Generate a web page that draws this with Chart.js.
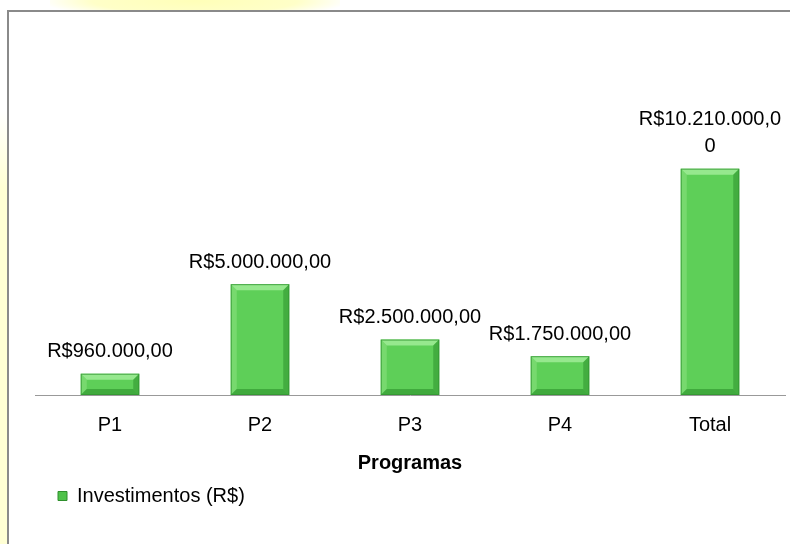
<!DOCTYPE html>
<html lang="pt-BR">
<head>
  <meta charset="UTF-8" />
  <title>Investimentos por programa</title>
  <script src="https://cdn.jsdelivr.net/npm/chart.js"></script>
  <style>
    html, body { margin: 0; padding: 0; background: #fff; }
    #page { position: relative; width: 790px; height: 544px; overflow: hidden; background: #fff; }
    #glowTop { position: absolute; left: 50px; top: -16px; width: 290px; height: 34px;
      background: radial-gradient(ellipse at center, #ffffb8 0%, #ffffc8 50%, rgba(255,255,255,0) 75%); }
    #stripLeft { position: absolute; left: 0; top: 110px; width: 7px; height: 434px;
      background: linear-gradient(#ffffff 0%, #ffffd4 18%, #ffffd4 100%); }
    #box { position: absolute; left: 7px; top: 10px; width: 790px; height: 540px;
      border-left: 2px solid #8a8a8a; border-top: 2px solid #8a8a8a; background: #fff; }
    #wrap { position: absolute; left: 0; top: 0; width: 790px; height: 544px; }
  </style>
</head>
<body>
<div id="page">
  <div id="glowTop"></div>
  <div id="stripLeft"></div>
  <div id="box"></div>
  <div id="wrap"><canvas id="investChart"></canvas></div>
</div>

<script>
const categories = ['P1', 'P2', 'P3', 'P4', 'Total'];
const investimentos = [960000, 5000000, 2500000, 1750000, 10210000];
// rótulos como aparecem no gráfico original (o do Total quebra em duas linhas)
const valueLabels = [
  ['R$960.000,00'],
  ['R$5.000.000,00'],
  ['R$2.500.000,00'],
  ['R$1.750.000,00'],
  ['R$10.210.000,0', '0']
];

const FONT = '"Liberation Sans", Arial, sans-serif';

// bisel nas barras + rótulos de valor
const bevelLabels = {
  id: 'bevelLabels',
  afterDatasetsDraw(chart) {
    const ctx = chart.ctx;
    const meta = chart.getDatasetMeta(0);
    meta.data.forEach((bar, i) => {
      const l = bar.x - bar.width / 2, r = bar.x + bar.width / 2;
      const t = bar.y, b = bar.base;
      const s = Math.min(6, (b - t) / 2);
      ctx.save();
      ctx.fillStyle = 'rgba(170,240,160,0.75)';
      ctx.beginPath();
      ctx.moveTo(l, t); ctx.lineTo(r, t); ctx.lineTo(r - s, t + s); ctx.lineTo(l + s, t + s);
      ctx.closePath(); ctx.fill();
      ctx.fillStyle = 'rgba(140,225,130,0.55)';
      ctx.beginPath();
      ctx.moveTo(l, t); ctx.lineTo(l + s, t + s); ctx.lineTo(l + s, b - s); ctx.lineTo(l, b);
      ctx.closePath(); ctx.fill();
      ctx.fillStyle = 'rgba(40,140,40,0.5)';
      ctx.beginPath();
      ctx.moveTo(r, t); ctx.lineTo(r - s, t + s); ctx.lineTo(r - s, b - s); ctx.lineTo(r, b);
      ctx.closePath(); ctx.fill();
      ctx.fillStyle = 'rgba(40,140,40,0.55)';
      ctx.beginPath();
      ctx.moveTo(l, b); ctx.lineTo(l + s, b - s); ctx.lineTo(r - s, b - s); ctx.lineTo(r, b);
      ctx.closePath(); ctx.fill();
      ctx.strokeStyle = 'rgba(50,150,50,0.8)';
      ctx.lineWidth = 1;
      ctx.strokeRect(l + 0.5, t + 0.5, r - l - 1, b - t - 1);

      ctx.fillStyle = '#000';
      ctx.font = '20px ' + FONT;
      ctx.textAlign = 'center';
      ctx.textBaseline = 'middle';
      const lines = valueLabels[i];
      lines.forEach((txt, k) => {
        const y = t - 22 - (lines.length - 1 - k) * 27;
        ctx.fillText(txt, bar.x, y);
      });
      ctx.restore();
    });
  }
};

new Chart(document.getElementById('investChart'), {
  type: 'bar',
  data: {
    labels: categories,
    datasets: [{
      label: 'Investimentos (R$)',
      data: investimentos,
      backgroundColor: '#5ecf58',
      borderWidth: 0,
      categoryPercentage: 1,
      barPercentage: 0.39
    }]
  },
  options: {
    responsive: true,
    maintainAspectRatio: false,
    animation: false,
    layout: { padding: { left: 35, right: 5, top: 129, bottom: 28 } },
    plugins: {
      legend: {
        position: 'bottom',
        align: 'start',
        labels: {
          boxWidth: 9,
          boxHeight: 9,
          padding: 23,
          color: '#000',
          font: { size: 20, family: FONT },
          generateLabels: chart => chart.data.datasets.map((ds, i) => ({
            text: ds.label,
            fillStyle: '#4fc24a',
            strokeStyle: '#2f8f2c',
            lineWidth: 1,
            fontColor: '#000',
            datasetIndex: i
          }))
        }
      },
      tooltip: { enabled: false }
    },
    scales: {
      x: {
        grid: { display: false },
        border: { display: true, color: '#999', width: 1 },
        ticks: {
          color: '#000',
          padding: 10,
          font: { size: 20, family: FONT }
        },
        title: {
          display: true,
          text: 'Programas',
          color: '#000',
          padding: { top: 4, bottom: -12 },
          font: { size: 20, weight: 'bold', family: FONT }
        }
      },
      y: { display: false, min: 0, max: 12000000 }
    }
  },
  plugins: [bevelLabels]
});
</script>
</body>
</html>
